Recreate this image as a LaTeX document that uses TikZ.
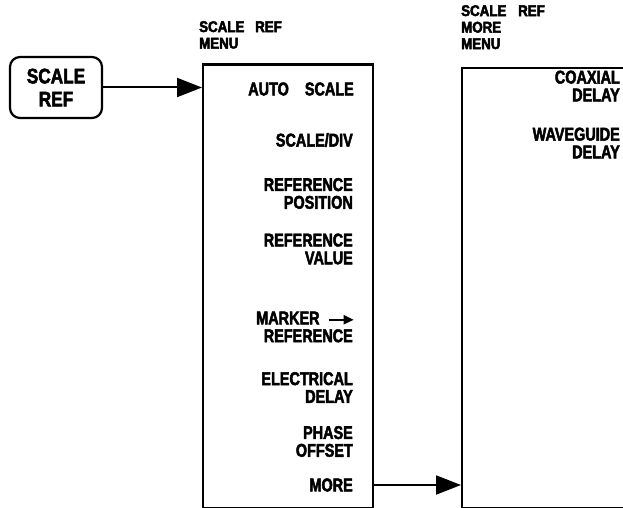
\documentclass[tikz,border=0pt]{standalone}
\usepackage{fontspec}
\setmainfont{Liberation Sans}
\newfontfamily\itemfont[FakeStretch=0.78,FakeBold=2.5]{Liberation Sans Bold}
\newfontfamily\hdrfont[FakeStretch=0.86,FakeBold=3]{Liberation Sans Bold}
\newfontfamily\keyfont[FakeStretch=0.82,FakeBold=2.5]{Liberation Sans Bold}
\usetikzlibrary{arrows.meta}
\begin{document}
\begin{tikzpicture}[x=1pt,y=-1pt,
  item/.style={font=\itemfont\fontsize{18.5}{17.8}\selectfont, align=right, anchor=east, inner sep=0pt},
  hdr/.style={font=\hdrfont\fontsize{15.5}{16.5}\selectfont, align=left, anchor=north west, inner sep=0pt},
  menubox/.style={draw, line width=2.2pt},
  conn/.style={line width=2pt, -{Triangle[length=25pt,width=19pt]}}]
\useasboundingbox (0,0) rectangle (623,508);
% key
\node[draw, line width=2.2pt, rounded corners=10pt, minimum width=92pt, minimum height=61pt,
  align=center, font=\keyfont\fontsize{21}{23}\selectfont, inner sep=0pt] (key) at (56,87.5) {SCALE\\REF};
% left menu
\node[menubox, minimum width=170pt, minimum height=443pt, inner sep=0pt, anchor=north west] (m1) at (202,63.5) {};
\node[hdr] (h1) at (199,21) {\makebox[56pt][l]{SCALE}REF\\MENU};
\node[item] (a1) at (354,89) {AUTO\hspace{16pt}SCALE};
\node[item] (a2) at (353,140) {SCALE/DIV};
\node[item] (a3) at (353,193.5) {REFERENCE\\POSITION};
\node[item] (a4) at (353,249) {REFERENCE\\VALUE};
\node[item] (a5) at (355,327) {MARKER\ \ \tikz[baseline=0pt]\draw[line width=2.2pt,-{Triangle[length=10pt,width=9pt]}] (0pt,4.6pt) -- (25pt,4.6pt);\\REFERENCE\kern2pt};
\node[item] (a6) at (353,387.5) {ELECTRICAL\\DELAY};
\node[item] (a7) at (353,441.5) {PHASE\\OFFSET};
\node[item] (a8) at (353,485) {MORE};
% right menu
\node[menubox, minimum width=200pt, minimum height=440pt, inner sep=0pt, anchor=north west] (m2) at (461,67) {};
\node[hdr] (h2) at (461,5) {\makebox[57pt][l]{SCALE}REF\\MORE\\MENU};
\node[item] (b1) at (620,86) {COAXIAL\\DELAY};
\node[item] (b2) at (620,143) {WAVEGUIDE\\DELAY};
% connectors
\draw[conn] (key.east) -- (key.east -| m1.west);
\coordinate (mo) at (372,485);
\draw[conn] (mo) -- (mo -| m2.west);
\end{tikzpicture}
\end{document}
